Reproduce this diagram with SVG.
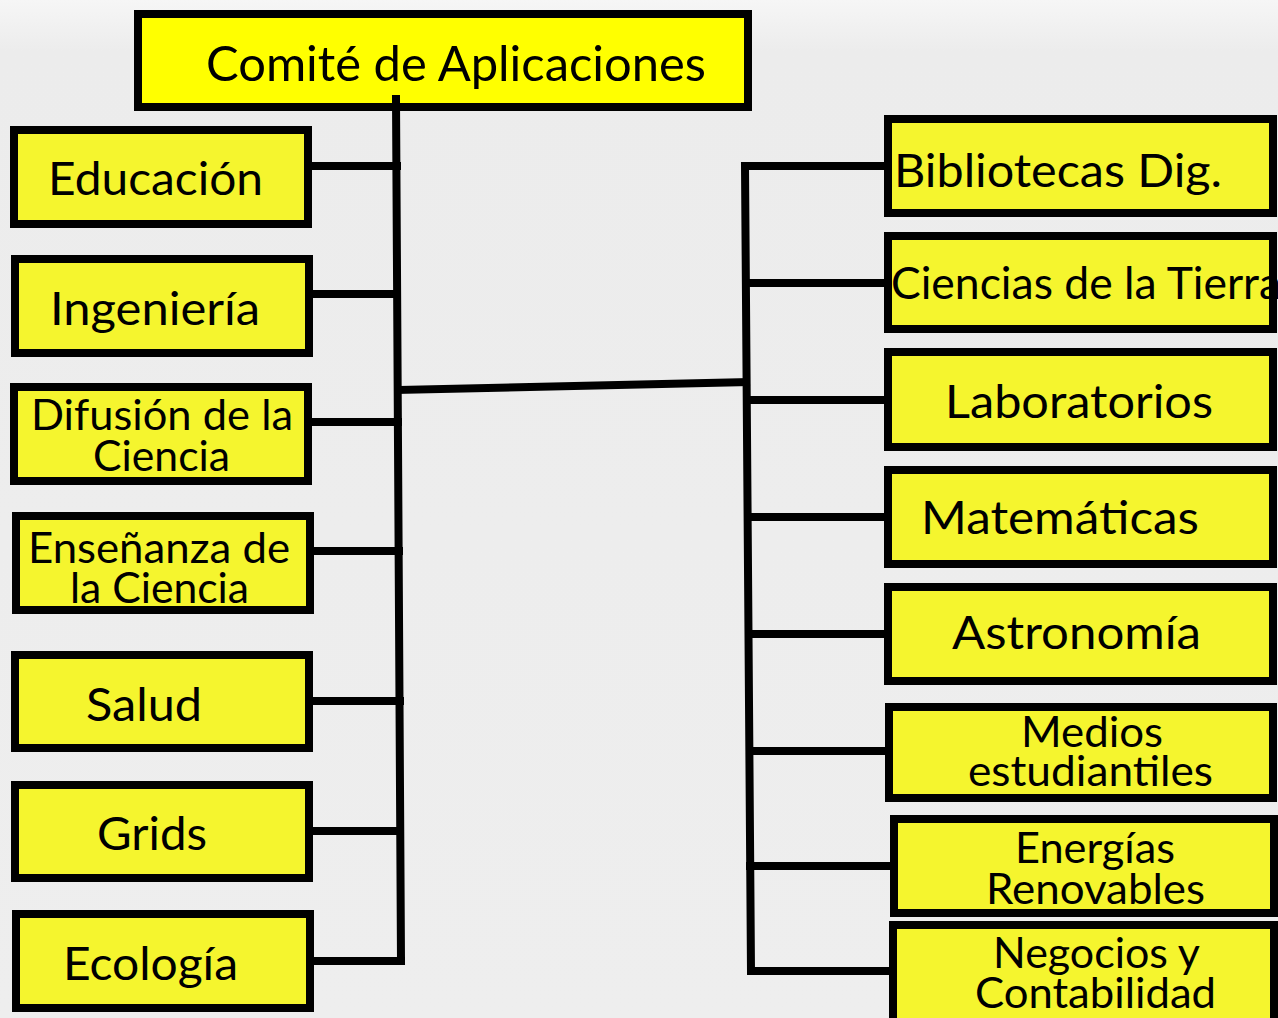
<svg xmlns="http://www.w3.org/2000/svg" width="1278" height="1018" viewBox="0 0 1278 1018">
<style>
.box{fill:#f5f52e;stroke:#000;stroke-width:8}
.top{fill:#ffff00;stroke:#000;stroke-width:8}
.frame{fill:none;stroke:#000;stroke-width:8}
text{font-family:Lato,"Open Sans","Liberation Sans",sans-serif;fill:#000}
.l1{font-size:46.5px}
.l2{font-size:42px}
.lt{font-size:48px}
.conn{fill:none;stroke:#000;stroke-width:8;stroke-linecap:square;stroke-linejoin:miter}
</style>
<defs>
<linearGradient id="bg" x1="0" y1="0" x2="0" y2="1">
<stop offset="0" stop-color="#f6f6f6"/>
<stop offset="0.05" stop-color="#ececec"/>
<stop offset="1" stop-color="#eeeeee"/>
</linearGradient>
</defs>
<rect x="0" y="0" width="1278" height="1018" fill="url(#bg)"/>

<g id="comite">
<rect class="top" x="138" y="14" width="610" height="93"/>
<text class="lt" x="206" y="81" textLength="500" lengthAdjust="spacingAndGlyphs">Comité de Aplicaciones</text>
</g>

<g id="educacion">
<rect class="box" x="14" y="130" width="294" height="94"/>
<text class="l1" x="48" y="195" textLength="215" lengthAdjust="spacingAndGlyphs">Educación</text>
</g>
<g id="ingenieria">
<rect class="box" x="15" y="259" width="294" height="94"/>
<text class="l1" x="50" y="325" textLength="210" lengthAdjust="spacingAndGlyphs">Ingeniería</text>
</g>
<g id="difusion">
<rect class="box" x="14" y="387" width="294" height="94"/>
<text class="l2" x="31" y="430" textLength="262" lengthAdjust="spacingAndGlyphs">Difusión de la</text>
<text class="l2" x="93" y="471" textLength="137" lengthAdjust="spacingAndGlyphs">Ciencia</text>
</g>
<g id="ensenanza">
<rect class="box" x="16" y="516" width="294" height="94"/>
<text class="l2" x="28" y="563" textLength="262" lengthAdjust="spacingAndGlyphs">Enseñanza de</text>
<text class="l2" x="70" y="603" textLength="179" lengthAdjust="spacingAndGlyphs">la Ciencia</text>
</g>
<g id="salud">
<rect class="box" x="15" y="655" width="294" height="93"/>
<text class="l1" x="86" y="721" textLength="116" lengthAdjust="spacingAndGlyphs">Salud</text>
</g>
<g id="grids">
<rect class="box" x="15" y="785" width="294" height="93"/>
<text class="l1" x="97" y="850" textLength="110" lengthAdjust="spacingAndGlyphs">Grids</text>
</g>
<g id="ecologia">
<rect class="box" x="16" y="914" width="294" height="94"/>
<text class="l1" x="63" y="980" textLength="175" lengthAdjust="spacingAndGlyphs">Ecología</text>
</g>

<g id="bibliotecas">
<rect class="box" x="888" y="119" width="385" height="94"/>
<text class="l1" x="894" y="187" textLength="328" lengthAdjust="spacingAndGlyphs">Bibliotecas Dig.</text>
</g>
<g id="ciencias-tierra">
<rect class="box" x="888" y="236" width="385" height="93" style="stroke:none"/>
<text class="l1" style="font-size:44px" x="891" y="299" textLength="390" lengthAdjust="spacingAndGlyphs">Ciencias de la Tierra</text>
<rect class="frame" x="888" y="236" width="385" height="93"/>
</g>
<g id="laboratorios">
<rect class="box" x="888" y="352" width="385" height="95"/>
<text class="l1" x="945" y="418" textLength="268" lengthAdjust="spacingAndGlyphs">Laboratorios</text>
</g>
<g id="matematicas">
<rect class="box" x="888" y="470" width="385" height="94"/>
<text class="l1" x="921" y="534" textLength="278" lengthAdjust="spacingAndGlyphs">Matemáticas</text>
</g>
<g id="astronomia">
<rect class="box" x="888" y="587" width="385" height="94"/>
<text class="l1" x="952" y="649" textLength="249" lengthAdjust="spacingAndGlyphs">Astronomía</text>
</g>
<g id="medios">
<rect class="box" x="889" y="707" width="384" height="91"/>
<text class="l2" x="1021" y="747" textLength="142" lengthAdjust="spacingAndGlyphs">Medios</text>
<text class="l2" x="968" y="786" textLength="245" lengthAdjust="spacingAndGlyphs">estudiantiles</text>
</g>
<g id="energias">
<rect class="box" x="894" y="819" width="380" height="94"/>
<text class="l2" x="1015" y="863" textLength="160" lengthAdjust="spacingAndGlyphs">Energías</text>
<text class="l2" x="986" y="904" textLength="219" lengthAdjust="spacingAndGlyphs">Renovables</text>
</g>
<g id="negocios">
<rect class="box" x="893" y="925" width="381" height="100"/>
<text class="l2" x="993" y="968" textLength="207" lengthAdjust="spacingAndGlyphs">Negocios y</text>
<text class="l2" x="975" y="1008" textLength="241" lengthAdjust="spacingAndGlyphs">Contabilidad</text>
</g>

<g id="connectors">
<polyline class="conn" points="396,99 401,961"/>
<line class="conn" x1="312" y1="166" x2="397" y2="166"/>
<line class="conn" x1="312" y1="294" x2="397" y2="294"/>
<line class="conn" x1="312" y1="422" x2="398" y2="422"/>
<line class="conn" x1="312" y1="551" x2="399" y2="551"/>
<line class="conn" x1="312" y1="701" x2="400" y2="701"/>
<line class="conn" x1="312" y1="831" x2="400" y2="831"/>
<line class="conn" x1="312" y1="961" x2="401" y2="961"/>
<line class="conn" x1="399" y1="390" x2="746" y2="382"/>
<polyline class="conn" points="884,166 745,166 751,971 886,971"/>
<line class="conn" x1="746" y1="283" x2="884" y2="283"/>
<line class="conn" x1="747" y1="400" x2="884" y2="400"/>
<line class="conn" x1="748" y1="517" x2="884" y2="517"/>
<line class="conn" x1="749" y1="634" x2="884" y2="634"/>
<line class="conn" x1="750" y1="751" x2="886" y2="751"/>
<line class="conn" x1="750" y1="866" x2="890" y2="866"/>
</g>
</svg>
